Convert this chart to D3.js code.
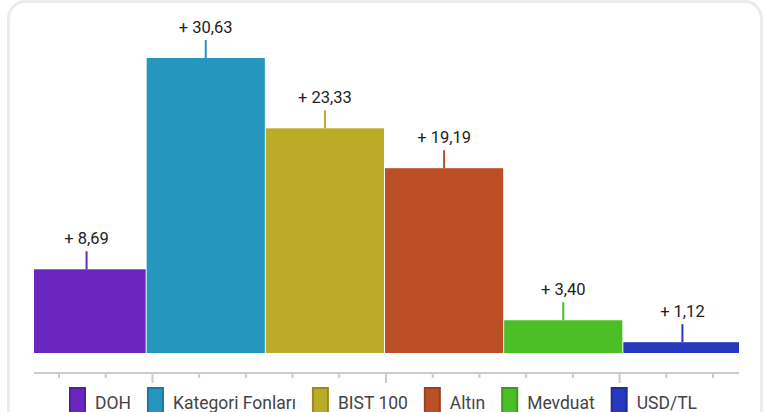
<!DOCTYPE html>
<html><head><meta charset="utf-8">
<script src="https://cdn.jsdelivr.net/npm/d3@7"></script>
<style>
html,body{margin:0;padding:0;background:#fff;}
svg{display:block;}
</style></head>
<body>
<script>
const categories = ["DOH", "Kategori Fonları", "BIST 100", "Altın", "Mevduat", "USD/TL"];
const values = [8.69, 30.63, 23.33, 19.19, 3.40, 1.12];
const colors = ["#6b26bf", "#2596be", "#bcab26", "#bd4f26", "#4bbf26", "#2638bd"];
const axisTicks = d3.range(0, 15); // decorative x-axis ticks
const majorTicks = [2, 7, 12];

const W = 768, H = 412;
const svg = d3.select("body").append("svg").attr("width", W).attr("height", H);

// card
svg.append("rect").attr("x", 8.5).attr("y", 1.5).attr("width", 753).attr("height", 440)
  .attr("rx", 17).attr("fill", "#fff").attr("stroke", "#ebebeb").attr("stroke-width", 3);

const plotL = 34, plotR = 739, base = 353;
const x = d3.scaleBand().domain(categories).range([27, 742]).padding(0);
const y = d3.scaleLinear().domain([0, 30.63]).range([base, 58]);
const tx = d3.scaleLinear().domain([0, 14]).range([59, 713]);

const loc = d3.formatLocale({decimal: ",", thousands: ".", grouping: [3], currency: ["", ""]});
const fmt = loc.format(".2f");

svg.append("defs").append("clipPath").attr("id", "clip")
  .append("rect").attr("x", plotL).attr("y", 0).attr("width", plotR - plotL).attr("height", base);

const data = categories.map((c, i) => ({c, v: values[i], col: colors[i]}));

const g = svg.append("g").attr("clip-path", "url(#clip)");
g.selectAll("rect.bar").data(data).join("rect").attr("class", "bar")
  .attr("x", d => x(d.c) + 0.5).attr("width", x.bandwidth() - 1)
  .attr("y", d => y(d.v)).attr("height", d => base - y(d.v))
  .attr("fill", d => d.col);

// leader lines
svg.selectAll("line.lead").data(data).join("line").attr("class", "lead")
  .attr("x1", d => x(d.c) + x.bandwidth() / 2).attr("x2", d => x(d.c) + x.bandwidth() / 2)
  .attr("y1", d => y(d.v) - 18).attr("y2", d => y(d.v))
  .attr("stroke", d => d.col).attr("stroke-width", 2);

// labels
svg.selectAll("text.lbl").data(data).join("text").attr("class", "lbl")
  .attr("x", d => x(d.c) + x.bandwidth() / 2).attr("y", d => y(d.v) - 25)
  .attr("text-anchor", "middle").attr("font-family", "Roboto, sans-serif")
  .attr("font-size", 16.5).attr("fill", "#222")
  .text(d => "+ " + fmt(d.v));

// axis line
svg.append("line").attr("x1", plotL).attr("x2", plotR).attr("y1", 373).attr("y2", 373)
  .attr("stroke", "#cccccc").attr("stroke-width", 2);
svg.selectAll("line.tick").data(axisTicks).join("line").attr("class", "tick")
  .attr("x1", d => tx(d)).attr("x2", d => tx(d))
  .attr("y1", 373).attr("y2", d => majorTicks.includes(d) ? 383 : 378)
  .attr("stroke", "#cccccc").attr("stroke-width", 2);

// legend
const legL = 70, legR = 698;
const leg = svg.append("g");
const items = data.map(d => {
  const it = leg.append("g");
  it.append("rect").attr("x", 1).attr("y", 388).attr("width", 15).attr("height", 30)
    .attr("fill", d.col).attr("stroke", d3.color(d.col).darker(0.6)).attr("stroke-width", 2);
  const t = it.append("text").attr("x", 26).attr("y", 409)
    .attr("font-family", "Roboto, sans-serif").attr("font-size", 17.5).attr("fill", "#444").text(d.c);
  return {it, w: 26 + t.node().getComputedTextLength()};
});
const sumW = d3.sum(items, d => d.w);
const gap = (legR - legL - sumW) / (items.length - 1);
let cx = legL - 1;
items.forEach(d => { d.it.attr("transform", `translate(${cx},0)`); cx += d.w + gap; });
</script>
</body></html>
